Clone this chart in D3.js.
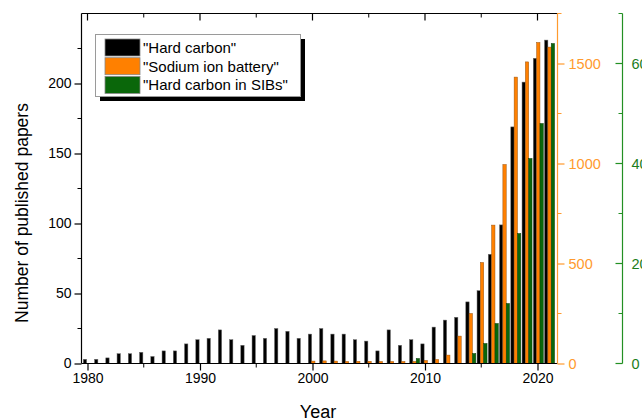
<!DOCTYPE html>
<html>
<head>
<meta charset="utf-8">
<script src="https://cdn.jsdelivr.net/npm/d3@7"></script>
<style>
  html, body { margin: 0; padding: 0; background: #fff; }
  svg { display: block; font-family: "Liberation Sans", Arial, sans-serif; }
</style>
</head>
<body>
<svg id="chart" width="642" height="420"></svg>
<script>
// Publication counts per year, 1980–2021
const years = d3.range(1980, 2022);
const hardCarbon = [
  3, 3, 4, 7, 7, 8, 5, 9, 9, 14,
  17, 18, 24, 17, 13, 20, 18, 25, 23, 18,
  21, 25, 21, 21, 17, 16, 9, 24, 13, 17,
  14, 26, 31, 33, 44, 52, 78, 99, 169, 201,
  218, 231
];
const sodiumIonBattery = [
  0, 0, 0, 0, 0, 0, 0, 0, 0, 0,
  0, 0, 0, 0, 0, 0, 0, 0, 0, 0,
  12, 13, 12, 10, 11, 11, 10, 10, 10, 10,
  15, 20, 42, 137, 250, 505, 692, 995, 1432, 1508,
  1605, 1582
];
const hardCarbonSIBs = [
  0, 0, 0, 0, 0, 0, 0, 0, 0, 0,
  0, 0, 0, 0, 0, 0, 0, 0, 0, 0,
  0, 0, 0, 0, 0, 0, 0, 0, 0, 1,
  0, 0, 0, 0, 2, 4, 8, 12, 26, 41,
  48, 64
];
const seriesNames = ['"Hard carbon"', '"Sodium ion battery"', '"Hard carbon in SIBs"'];
const seriesColors = ["#000000", "#FF8000", "#0A670A"];
const xTickYears = [1980, 1990, 2000, 2010, 2020];
const leftTicks = [0, 50, 100, 150, 200];
const orangeTicks = [0, 500, 1000, 1500];
const greenTicks = [0, 20, 40, 60];

const svg = d3.select("#chart");
const plotLeft = 81.5, plotRight = 557.5, plotTop = 13.5, plotBottom = 363.5;
const greenAxisX = 622.5;
const orangeCol = "#FF9A2E", greenCol = "#239023";

const x = d3.scaleLinear().domain([1979.467, 2021.778]).range([plotLeft, plotRight]);
const yLeft = d3.scaleLinear().domain([0, 250]).range([plotBottom, plotTop]);
const yOrange = d3.scaleLinear().domain([0, 1750]).range([plotBottom, plotTop]);
const yGreen = d3.scaleLinear().domain([0, 70]).range([plotBottom, plotTop]);
const offset = d3.scaleBand().domain(seriesNames).range([-4.2, 5.8]);
const intFmt = d3.format("d");

const series = [
  { name: seriesNames[0], values: hardCarbon, y: yLeft, color: seriesColors[0], stroke: "#6a6a6a" },
  { name: seriesNames[1], values: sodiumIonBattery, y: yOrange, color: seriesColors[1], stroke: "#9a5410" },
  { name: seriesNames[2], values: hardCarbonSIBs, y: yGreen, color: seriesColors[2], stroke: "#0b3d0b" }
];

// Bars
series.forEach(s => {
  svg.append("g").selectAll("rect")
    .data(years.map((yr, i) => ({ yr, v: s.values[i] })).filter(d => d.v > 0))
    .join("rect")
    .attr("x", d => x(d.yr) + offset(s.name))
    .attr("width", offset.bandwidth())
    .attr("y", d => s.y(d.v))
    .attr("height", d => s.y(0) - s.y(d.v))
    .attr("fill", s.color)
    .attr("stroke", s.stroke)
    .attr("stroke-width", 0.5);
});

// Bottom axis with major ticks every 10 years and minor every 5
const minorYears = d3.range(1985, 2021, 10);
const bottomAxis = d3.axisBottom(x).tickValues(xTickYears).tickFormat(intFmt).tickSize(7).tickPadding(3);
const gB = svg.append("g").attr("transform", `translate(0,${plotBottom})`).call(bottomAxis);
gB.select(".domain").attr("d", `M${plotLeft},0H${plotRight}`).attr("stroke-width", 1.2);
gB.selectAll("text").attr("font-size", 14).attr("fill", "#000");
gB.selectAll(".tick line").attr("stroke-width", 1.2);
gB.append("g").selectAll("line").data(minorYears).join("line")
  .attr("x1", d => x(d)).attr("x2", d => x(d)).attr("y1", 0).attr("y2", 4).attr("stroke", "#000");

// Top mirror axis, ticks inward
const gT = svg.append("g").attr("transform", `translate(0,${plotTop})`);
gT.append("line").attr("x1", plotLeft).attr("x2", plotRight).attr("y1", 0).attr("y2", 0).attr("stroke", "#000").attr("stroke-width", 1.2);
gT.selectAll(".maj").data(xTickYears).join("line").attr("class", "maj")
  .attr("x1", d => x(d)).attr("x2", d => x(d)).attr("y1", 0).attr("y2", 7).attr("stroke", "#000").attr("stroke-width", 1.2);
gT.selectAll(".min").data(minorYears).join("line").attr("class", "min")
  .attr("x1", d => x(d)).attr("x2", d => x(d)).attr("y1", 0).attr("y2", 4).attr("stroke", "#000");

// Left axis
const gL = svg.append("g").attr("transform", `translate(${plotLeft},0)`)
  .call(d3.axisLeft(yLeft).tickValues(leftTicks).tickFormat(intFmt).tickSize(7).tickPadding(3));
gL.select(".domain").attr("d", `M0,${plotTop}V${plotBottom}`).attr("stroke-width", 1.2);
gL.selectAll("text").attr("font-size", 14).attr("fill", "#000");
gL.selectAll(".tick line").attr("stroke-width", 1.2);
gL.append("g").selectAll("line").data(d3.range(25, 250, 50)).join("line")
  .attr("y1", d => yLeft(d)).attr("y2", d => yLeft(d)).attr("x1", 0).attr("x2", -4).attr("stroke", "#000");

// Orange right axis
const gO = svg.append("g").attr("transform", `translate(${plotRight},0)`)
  .call(d3.axisRight(yOrange).tickValues(orangeTicks).tickFormat(intFmt).tickSize(7).tickPadding(4));
gO.select(".domain").attr("d", `M0,${plotTop}V${plotBottom}`).attr("stroke", orangeCol).attr("stroke-width", 1.2);
gO.selectAll(".tick line").attr("stroke", orangeCol).attr("stroke-width", 1.2);
gO.selectAll("text").attr("font-size", 14.5).attr("fill", orangeCol);
gO.append("g").selectAll("line").data(d3.range(250, 1751, 500)).join("line")
  .attr("y1", d => yOrange(d)).attr("y2", d => yOrange(d)).attr("x1", 0).attr("x2", 4).attr("stroke", orangeCol);

// Green right axis, ticks on the left side of its line
const gG = svg.append("g").attr("transform", `translate(${greenAxisX},0)`)
  .call(d3.axisRight(yGreen).tickValues(greenTicks).tickFormat(intFmt).tickSize(0).tickPadding(9));
gG.select(".domain").attr("d", `M0,${plotTop}V${plotBottom}`).attr("stroke", greenCol).attr("stroke-width", 1.2);
gG.selectAll("text").attr("font-size", 14.5).attr("fill", "#1c7d1c");
gG.append("g").selectAll("line").data(greenTicks).join("line")
  .attr("y1", d => yGreen(d)).attr("y2", d => yGreen(d)).attr("x1", 0).attr("x2", -7)
  .attr("stroke", greenCol).attr("stroke-width", 1.2);
gG.append("g").selectAll("line").data(d3.range(10, 71, 20)).join("line")
  .attr("y1", d => yGreen(d)).attr("y2", d => yGreen(d)).attr("x1", 0).attr("x2", -4)
  .attr("stroke", greenCol);

// Axis titles
svg.append("text").attr("x", 318).attr("y", 418).attr("text-anchor", "middle")
  .attr("font-size", 18).text("Year");
svg.append("text").attr("transform", "translate(28,213) rotate(-90)").attr("text-anchor", "middle")
  .attr("font-size", 17.5).text("Number of published papers");

// Legend with drop shadow
const lg = svg.append("g").attr("transform", "translate(95,34)");
lg.append("rect").attr("x", 5).attr("y", 5).attr("width", 205).attr("height", 62).attr("fill", "#000");
lg.append("rect").attr("x", 0.5).attr("y", 0.5).attr("width", 205).attr("height", 62)
  .attr("fill", "#fff").attr("stroke", "#9a9a9a");
series.forEach((s, i) => {
  const row = lg.append("g").attr("transform", `translate(10,${5 + i * 18.7})`);
  row.append("rect").attr("width", 35).attr("height", 17).attr("fill", s.color).attr("stroke", "#888").attr("stroke-width", 0.8);
  row.append("text").attr("x", 38).attr("y", 13.8).attr("font-size", 15).text(s.name);
});
</script>
</body>
</html>
